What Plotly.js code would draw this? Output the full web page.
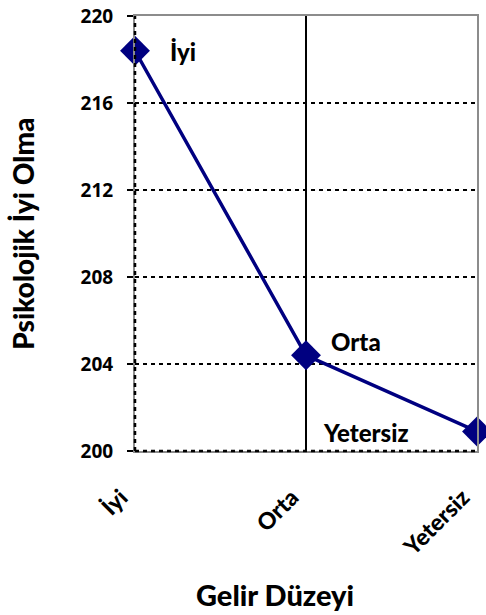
<!DOCTYPE html>
<html><head><meta charset="utf-8">
<script src="https://cdn.plot.ly/plotly-3.0.1.min.js"></script>
<style>html,body{margin:0;padding:0;background:#fff}</style>
</head><body><div id="chart" style="width:486px;height:615px"></div>
<script>
const categories = ["İyi", "Orta", "Yetersiz"];
const values = [218.4, 204.4, 200.9];
const pointLabels = ["İyi", "Orta", "Yetersiz"];
const yTicks = [200, 204, 208, 212, 216, 220];
const xTitle = "Gelir Düzeyi";
const yTitle = "Psikolojik İyi Olma";

const FONT = "Lato, 'Open Sans', sans-serif";
const TICKFONT = "'Open Sans', Lato, sans-serif";
const navy = "#000080";

const labelShifts = [[48, -1], [50, 14], [-111, -1]];

const trace = {
  x: categories, y: values, type: "scatter", mode: "lines+markers",
  line: {color: navy, width: 3.5},
  marker: {symbol: "diamond", size: 23, color: navy},
  cliponaxis: false, hoverinfo: "skip"
};

const layout = {
  width: 486, height: 615,
  margin: {l: 135, r: 9, t: 16, b: 164},
  paper_bgcolor: "#fff", plot_bgcolor: "#fff",
  showlegend: false,
  font: {family: FONT, color: "#000"},
  xaxis: {
    type: "category", range: [0, 2], showgrid: false, zeroline: false,
    showline: true, mirror: true, linecolor: "#8c8c8c", linewidth: 2,
    tickvals: categories, ticktext: categories,
    ticks: "outside", ticklen: 22, tickcolor: "rgba(0,0,0,0)", tickangle: -45,
    ticklabelshift: -14,
    tickfont: {family: FONT, size: 23, color: "#000", weight: 900}
  },
  yaxis: {
    range: [200, 220], tickvals: yTicks, ticktext: yTicks.map(String),
    showgrid: true, gridcolor: "#000", gridwidth: 2.5, griddash: "4px,4px",
    zeroline: false, showline: true, mirror: true, linecolor: "#8c8c8c", linewidth: 2,
    ticks: "outside", ticklen: 6, tickwidth: 2.5, tickcolor: "#000",
    ticklabelstandoff: 10,
    tickfont: {family: TICKFONT, size: 19, color: "#000", weight: "bold"}
  },
  shapes: [
    {type: "line", xref: "x", yref: "paper", x0: categories[1], x1: categories[1], y0: 0, y1: 1,
     line: {color: "#000", width: 2}, layer: "below"},
    {type: "line", xref: "paper", yref: "paper", x0: 0, x1: 0, y0: 0, y1: 1,
     line: {color: "#000", width: 2.5, dash: "4px,4px"}},
    {type: "line", xref: "paper", yref: "paper", x0: 0, x1: 1, y0: 0, y1: 0,
     line: {color: "#000", width: 2.5, dash: "4px,4px"}}
  ],
  annotations: categories.map((c, i) => ({
    x: c, y: values[i], xref: "x", yref: "y", text: pointLabels[i], showarrow: false,
    xshift: labelShifts[i][0], yshift: labelShifts[i][1],
    font: {family: FONT, size: 24, color: "#000", weight: 900}
  })).concat([
    {xref: "paper", yref: "paper", x: 0.409, y: -0.331, text: xTitle, showarrow: false,
     xanchor: "center", yanchor: "middle",
     font: {family: FONT, size: 29, color: "#000", weight: 900}},
    {xref: "paper", yref: "paper", x: -0.33, y: 0.5, text: yTitle, showarrow: false,
     textangle: -90, xanchor: "center", yanchor: "middle",
     font: {family: FONT, size: 28, color: "#000", weight: 900}}
  ])
};

Plotly.newPlot("chart", [trace], layout, {displayModeBar: false, staticPlot: true});
</script></body></html>
